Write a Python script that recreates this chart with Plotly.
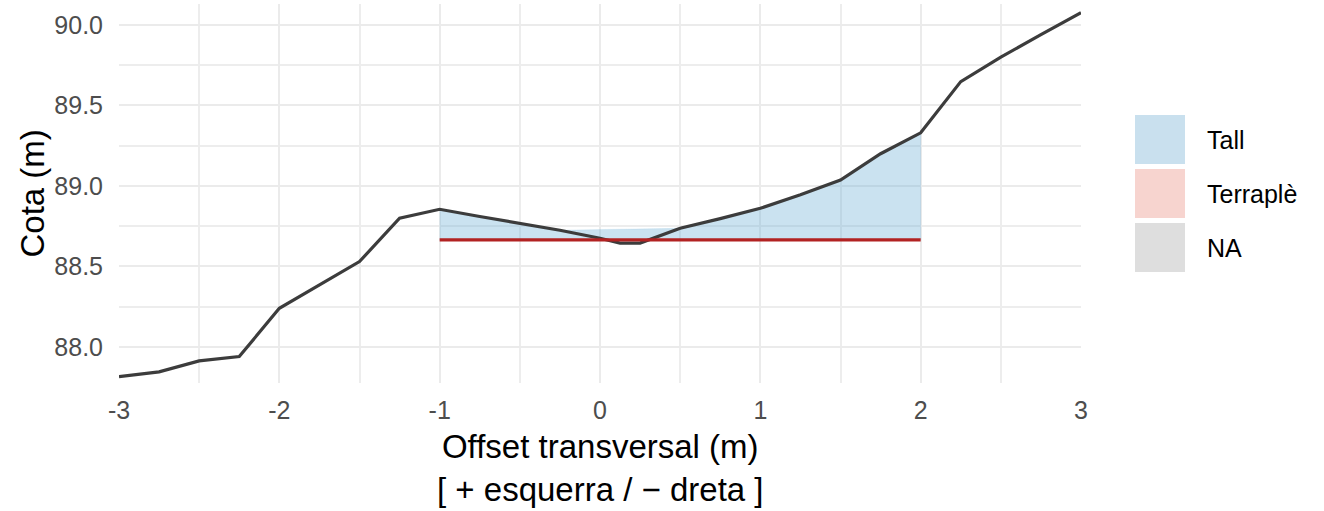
import plotly.graph_objects as go

# terrain profile (offset in m, elevation in m)
offset = [-3, -2.75, -2.5, -2.25, -2, -1.75, -1.5, -1.25, -1, -0.75, -0.5, -0.25,
          0, 0.125, 0.25, 0.5, 0.75, 1, 1.25, 1.5, 1.75, 2, 2.25, 2.5, 2.75, 3]
cota = [87.816, 87.845, 87.913, 87.94, 88.24, 88.385, 88.53, 88.80, 88.855, 88.81,
        88.77, 88.725, 88.675, 88.645, 88.645, 88.737, 88.797, 88.861, 88.945,
        89.037, 89.20, 89.33, 89.648, 89.80, 89.94, 90.076]

# design level (red line)
design_x = [-1, 2]
design_z = [88.665, 88.665]

# cut area ("Tall") top boundary
tall_x = [-1, -0.75, -0.5, -0.25, 0.5, 0.75, 1, 1.25, 1.5, 1.75, 2]
tall_top = [88.855, 88.81, 88.77, 88.725, 88.737, 88.797, 88.861, 88.945, 89.037, 89.20, 89.33]

x_ticks = [-3, -2, -1, 0, 1, 2, 3]
x_ticktext = ["-3", "-2", "-1", "0", "1", "2", "3"]
y_ticks = [88.0, 88.5, 89.0, 89.5, 90.0]
y_ticktext = ["88.0", "88.5", "89.0", "89.5", "90.0"]

legend_labels = ["Tall", "Terraplè", "NA"]
legend_colors = ["#C9E0EE", "#F7D4CF", "#DEDEDE"]

FONT = "Liberation Sans, Arial, sans-serif"

fig = go.Figure()

fig.add_trace(go.Scatter(
    x=tall_x + tall_x[::-1],
    y=tall_top + [design_z[0]] * len(tall_x),
    fill="toself", fillcolor="rgba(107,174,214,0.36)",
    line=dict(width=0.6, color="rgba(107,174,214,0.25)"),
    mode="lines", hoverinfo="skip", showlegend=False))

fig.add_trace(go.Scatter(x=offset, y=cota, mode="lines",
                         line=dict(color="#3C3C3C", width=3.2), showlegend=False))

fig.add_trace(go.Scatter(x=design_x, y=design_z, mode="lines",
                         line=dict(color="#B22222", width=3.4), showlegend=False))

# plot area in pixels
L, R, T, B = 119, 1081, 4, 383
def px(x):
    return (x - L) / (R - L)
def py(y):
    return (B - y) / (B - T)

box_tops = [115, 169, 223]
for lab, col, top in zip(legend_labels, legend_colors, box_tops):
    fig.add_shape(type="rect", xref="paper", yref="paper",
                  x0=px(1135), x1=px(1185), y0=py(top + 49), y1=py(top),
                  fillcolor=col, line=dict(width=0))
    fig.add_annotation(xref="paper", yref="paper", x=px(1205), y=py(top + 25),
                       text=lab, showarrow=False, xanchor="left", yanchor="middle",
                       font=dict(family=FONT, size=25, color="black"))

# axis titles
fig.add_annotation(xref="paper", yref="paper", x=0.5, y=py(426),
                   text="Offset transversal (m)<br>[ + esquerra / − dreta ]",
                   showarrow=False, xanchor="center", yanchor="top",
                   font=dict(family=FONT, size=33, color="black"))
fig.add_annotation(xref="paper", yref="paper", x=px(32), y=0.5,
                   text="Cota (m)", textangle=-90,
                   showarrow=False, xanchor="center", yanchor="middle",
                   font=dict(family=FONT, size=33, color="black"))

fig.update_layout(
    width=1324, height=511,
    margin=dict(l=L, r=1324 - R, t=T, b=511 - B),
    plot_bgcolor="white", paper_bgcolor="white",
    font=dict(family=FONT),
    xaxis=dict(
        range=[-3, 3], tickvals=x_ticks, ticktext=x_ticktext,
        showgrid=True, gridcolor="#EBEBEB", gridwidth=2,
        minor=dict(dtick=0.5, tick0=0, showgrid=True, gridcolor="#EDEDED", gridwidth=1.5),
        zeroline=False, showline=False, ticks="", automargin=False,
        ticklabelstandoff=10,
        tickfont=dict(family=FONT, size=25, color="#4D4D4D"),
    ),
    yaxis=dict(
        range=[87.776, 90.13], tickvals=y_ticks, ticktext=y_ticktext,
        showgrid=True, gridcolor="#EBEBEB", gridwidth=2,
        minor=dict(dtick=0.25, tick0=88, showgrid=True, gridcolor="#EDEDED", gridwidth=1.5),
        zeroline=False, showline=False, ticks="", automargin=False,
        ticklabelstandoff=15,
        tickfont=dict(family=FONT, size=25, color="#4D4D4D"),
    ),
)

fig.write_html("out.html", config={"displayModeBar": False},
               post_script="document.body.style.margin='0px';")
